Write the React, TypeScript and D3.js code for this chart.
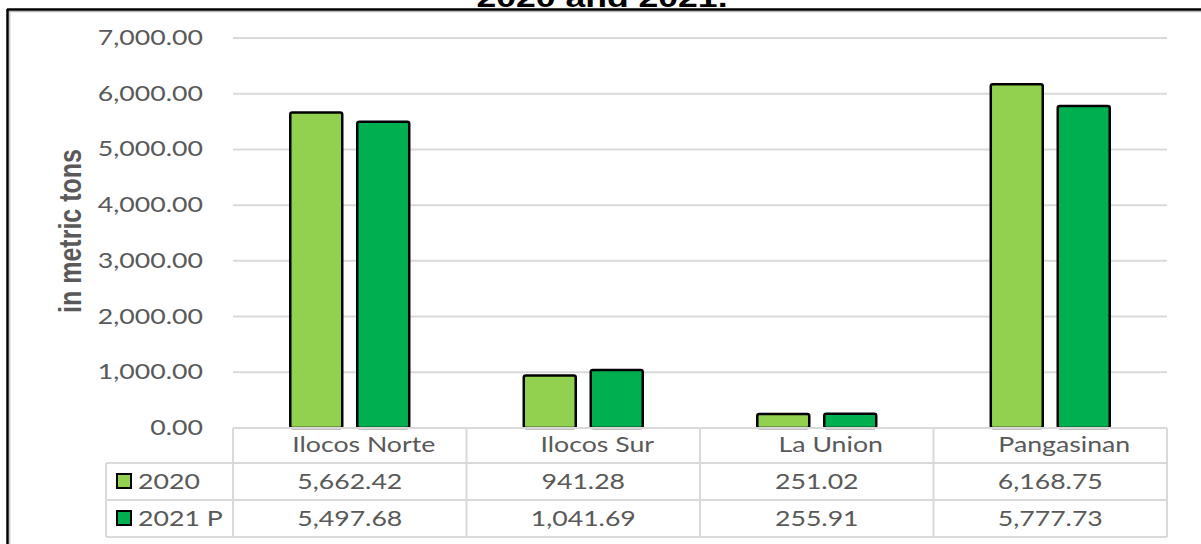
import React from "react";
import * as d3 from "d3";

const categories = ["Ilocos Norte", "Ilocos Sur", "La Union", "Pangasinan"];
const seriesNames = ["2020", "2021 P"];
const values2020 = [5662.42, 941.28, 251.02, 6168.75];
const values2021 = [5497.68, 1041.69, 255.91, 5777.73];
const yTicks = [0, 1000, 2000, 3000, 4000, 5000, 6000, 7000];
const colors = ["#92D050", "#00B050"];

const W = 1201;
const H = 544;
const SX = 1.27; // the source picture is stretched sideways
const textFont = "Lato, 'Open Sans', sans-serif";
const grey = "#595959";
const gridColor = "#d9d9d9";

// text helper: puts text at (x, y) and stretches it horizontally
const st = (x: number, y: number) => `translate(${x},${y}) scale(${SX},1)`;

export default function App() {
  const plot = { left: 233, right: 1167, top: 38, bottom: 428 };
  const rows = { legendLeft: 106, r0: 428, r1: 463, r2: 500, r3: 537 };

  const x0 = d3.scaleBand<string>().domain(categories).range([plot.left, plot.right]);
  const x1 = d3
    .scaleBand<string>()
    .domain(seriesNames)
    .range([0, x0.bandwidth()])
    .paddingInner(0.224)
    .paddingOuter(0.855);
  const y = d3.scaleLinear().domain([0, 7000]).range([plot.bottom, plot.top]);
  const fmt = d3.format(",.2f");
  const series = [values2020, values2021];

  const colEdges = [plot.left, ...categories.map((c) => (x0(c) as number) + x0.bandwidth())];

  return (
    <svg
      width={W}
      height={H}
      style={{ position: "fixed", left: 0, top: 0, background: "#fff" }}
    >
      <rect x={0} y={0} width={W} height={H} fill="#fff" />

      {/* title, cut at the top */}
      <text
        transform={st(602, 7)}
        textAnchor="middle"
        fontFamily="'Liberation Sans', Arial, sans-serif"
        fontWeight="bold"
        fontSize={28}
        fill="#000"
      >
        2020 and 2021.
      </text>

      {/* frame */}
      <line x1={7} x2={W} y1={11.5} y2={11.5} stroke="#bbb" strokeWidth={1.5} />
      <line x1={7} x2={W} y1={9.5} y2={9.5} stroke="#000" strokeWidth={2.5} />
      <line x1={7.5} x2={7.5} y1={9} y2={H} stroke="#000" strokeWidth={2.5} />
      <line x1={9.8} x2={9.8} y1={11} y2={H} stroke="#bbb" strokeWidth={1.2} />

      {/* gridlines */}
      {yTicks.slice(1).map((t) => (
        <line
          key={t}
          x1={plot.left}
          x2={plot.right}
          y1={y(t)}
          y2={y(t)}
          stroke={gridColor}
          strokeWidth={2}
        />
      ))}

      {/* y tick labels */}
      {yTicks.map((t) => (
        <text
          key={t}
          transform={st(203, y(t) + 7)}
          textAnchor="end"
          fontFamily={textFont}
          fontSize={21}
          fill={grey}
        >
          {fmt(t)}
        </text>
      ))}

      {/* y axis title */}
      <text
        transform={`translate(81,231) scale(${SX},1) rotate(-90)`}
        textAnchor="middle"
        fontFamily="'Liberation Sans', Arial, sans-serif"
        fontWeight="bold"
        fontSize={25}
        fill={grey}
      >
        in metric tons
      </text>

      {/* bars */}
      {categories.map((c, i) => (
        <g key={c} transform={`translate(${x0(c)},0)`}>
          {seriesNames.map((s, j) => (
            <rect
              key={s}
              x={x1(s)}
              y={y(series[j][i])}
              width={x1.bandwidth()}
              height={y(0) - y(series[j][i])}
              fill={colors[j]}
              stroke="#000"
              strokeWidth={2.5}
              rx={2}
            />
          ))}
        </g>
      ))}

      {/* data table grid */}
      <g stroke={gridColor} strokeWidth={2} fill="none">
        <line x1={plot.left} x2={plot.right} y1={rows.r0} y2={rows.r0} />
        <line x1={rows.legendLeft} x2={plot.right} y1={rows.r1} y2={rows.r1} />
        <line x1={rows.legendLeft} x2={plot.right} y1={rows.r2} y2={rows.r2} />
        <line x1={rows.legendLeft} x2={plot.right} y1={rows.r3} y2={rows.r3} />
        <line x1={rows.legendLeft} x2={rows.legendLeft} y1={rows.r1} y2={rows.r3} />
        {colEdges.map((xe) => (
          <line key={xe} x1={xe} x2={xe} y1={rows.r0} y2={rows.r3} />
        ))}
      </g>

      {/* header labels */}
      {categories.map((c) => (
        <text
          key={c}
          transform={st((x0(c) as number) + x0.bandwidth() / 2 + 14, 452)}
          textAnchor="middle"
          fontFamily={textFont}
          fontSize={21}
          fill={grey}
        >
          {c}
        </text>
      ))}

      {/* rows */}
      {seriesNames.map((s, j) => {
        const top = j === 0 ? rows.r1 : rows.r2;
        return (
          <g key={s}>
            <rect
              x={117}
              y={top + 11}
              width={14}
              height={14}
              fill={colors[j]}
              stroke="#000"
              strokeWidth={2}
            />
            <text
              transform={st(138, top + 26)}
              fontFamily={textFont}
              fontSize={21}
              fill={grey}
            >
              {s}
            </text>
            {categories.map((c, i) => (
              <text
                key={c}
                transform={st((x0(c) as number) + x0.bandwidth() / 2, top + 26)}
                textAnchor="middle"
                fontFamily={textFont}
                fontSize={21}
                fill={grey}
              >
                {fmt(series[j][i])}
              </text>
            ))}
          </g>
        );
      })}
    </svg>
  );
}
